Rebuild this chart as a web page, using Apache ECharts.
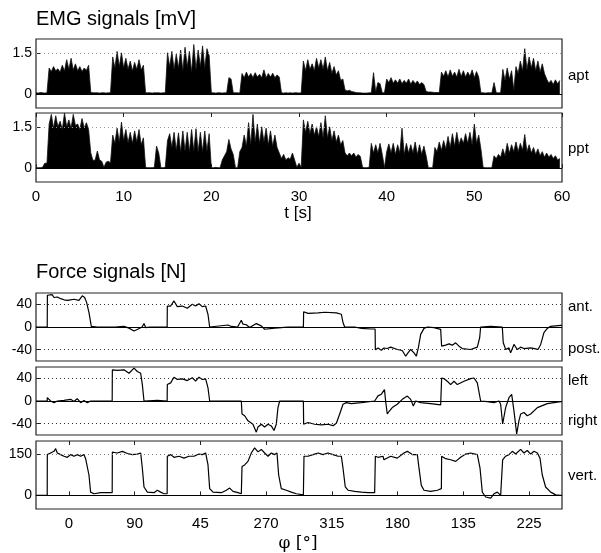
<!DOCTYPE html>
<html>
<head>
<meta charset="utf-8">
<script src="https://cdn.jsdelivr.net/npm/echarts@6/dist/echarts.min.js"></script>
<style>
  html, body { margin: 0; padding: 0; background: #fff; }
  #myChart { width: 601px; height: 553px; }
</style>
</head>
<body>
<div id="myChart"></div>
<script>
// EMG envelopes, one row per second: values at t, t+0.25, t+0.5, t+0.75 [mV]
var aptRows = [
  [0.05,0.04,0.06,0.05],[0.04,0.05,0.95,0.82],[1.0,0.85,0.92,0.8],[1.05,0.84,1.25,0.9],
  [1.3,0.88,1.1,0.85],[1.0,0.82,0.95,0.86],[1.05,0.06,0.05,0.05],[0.05,0.04,0.05,0.05],
  [0.04,0.05,0.05,1.35],[0.95,1.55,1.0,1.5],[0.95,1.3,0.9,1.2],[0.85,1.15,0.9,1.25],
  [0.88,1.05,0.05,0.05],[0.05,0.04,0.05,0.05],[0.05,0.04,0.05,0.05],[1.5,1.0,1.55,0.9],
  [1.45,0.95,1.6,0.85],[1.7,1.0,1.55,0.8],[1.8,0.9,1.6,1.0],[1.75,0.95,1.65,1.4],
  [0.05,0.05,0.04,0.05],[0.05,0.04,0.05,0.05],[0.6,0.55,0.05,0.05],[0.05,0.04,0.75,0.6],
  [0.8,0.62,0.75,0.6],[0.78,0.62,0.72,0.6],[0.88,0.6,0.75,0.62],[0.76,0.6,0.7,0.62],
  [0.05,0.04,0.05,0.04],[0.05,0.04,0.05,0.05],[0.04,0.05,1.2,0.85],[1.25,0.9,1.1,0.85],
  [1.3,0.95,1.25,0.9],[1.35,0.85,1.15,0.75],[1.0,0.7,0.85,0.5],[0.55,0.15,0.12,0.14],
  [0.1,0.08,0.06,0.05],[0.05,0.04,0.04,0.04],[0.05,0.05,0.78,0.08],[0.42,0.38,0.05,0.05],
  [0.55,0.42,0.6,0.4],[0.52,0.4,0.55,0.38],[0.5,0.4,0.55,0.36],[0.5,0.38,0.48,0.35],
  [0.42,0.35,0.1,0.08],[0.08,0.07,0.06,0.06],[0.06,0.8,0.65,0.85],[0.62,0.88,0.65,0.8],
  [0.62,0.9,0.64,0.85],[0.62,0.8,0.65,0.88],[0.6,0.82,0.62,0.05],[0.05,0.04,0.05,0.05],
  [0.05,0.42,0.05,0.05],[0.05,0.9,0.5,0.95],[0.55,0.85,0.15,1.0],[0.75,1.2,0.85,1.65],
  [0.9,1.35,0.95,1.3],[0.85,1.2,0.8,1.1],[0.75,0.55,0.4,0.5],[0.35,0.52,0.38,0.5]
];
var pptRows = [
  [0.02,0.02,0.02,0.03],[0.18,0.18,1.6,1.95],[1.45,1.9,1.5,1.7],[1.4,2.0,1.5,1.75],
  [1.45,1.95,1.55,1.6],[1.4,1.8,1.45,1.65],[1.4,0.55,0.28,0.3],[0.62,0.3,0.25,0.03],
  [0.22,0.25,0.2,1.2],[0.9,1.45,0.95,1.67],[1.0,1.4,0.92,1.3],[0.9,1.35,0.95,1.4],
  [0.85,1.1,0.03,0.02],[0.02,0.02,0.03,0.8],[0.55,0.02,0.02,0.03],[1.0,1.25,0.75,1.3],
  [0.65,1.28,0.6,1.35],[0.62,1.3,0.6,1.4],[0.62,1.43,0.6,1.3],[0.6,1.35,0.62,1.25],
  [0.02,0.02,0.03,0.02],[0.02,0.3,0.45,0.6],[1.04,0.7,0.5,0.02],[0.02,0.6,0.75,1.2],
  [0.8,1.65,0.85,1.95],[0.95,1.6,0.9,1.5],[0.95,1.45,0.85,1.35],[0.8,1.2,0.75,0.55],
  [0.35,0.5,0.3,0.38],[0.32,0.55,0.3,0.03],[0.18,0.03,1.75,1.3],[1.7,1.25,1.6,1.2],
  [1.5,1.15,1.65,1.1],[1.9,1.1,1.5,1.0],[1.35,0.95,1.2,0.85],[1.0,0.55,0.45,0.55],
  [0.45,0.55,0.4,0.5],[0.42,0.03,0.02,0.02],[0.03,0.9,0.55,0.85],[0.55,0.9,0.5,0.02],
  [0.6,0.88,0.55,0.9],[0.5,0.85,0.55,1.45],[0.5,0.9,0.55,0.85],[0.55,0.95,0.5,0.85],
  [0.5,0.8,0.45,0.02],[0.02,0.02,0.75,0.6],[0.95,0.65,1.0,0.7],[1.15,0.75,1.25,0.8],
  [1.3,0.85,1.1,0.9],[1.25,0.9,1.3,0.85],[1.6,0.9,1.2,0.7],[0.03,0.02,0.02,0.02],
  [0.02,0.45,0.35,0.5],[0.4,0.7,0.45,0.9],[0.55,0.85,0.6,0.95],[0.6,0.9,0.65,1.22],
  [0.6,0.85,0.55,0.75],[0.5,0.7,0.45,0.6],[0.4,0.55,0.4,0.5],[0.35,0.45,0.3,0.35]
];

// force signals [t (s), N]
var forceAP = [
  [0,0],[1.28,0],[1.3,56],[1.86,57],[2.05,52],[2.43,53],[2.81,50],[3.2,48],[3.57,47],[3.95,48],
  [4.33,49],[4.9,47],[5.28,55],[5.55,52],[5.78,43],[6.05,25],[6.31,1],[7,0],[9,0],[10.04,1],
  [10.6,-2],[11.18,-7],[11.6,-4],[12.1,0],[12.32,6],[12.51,-1],[13,0],[14.96,0],
  [14.98,37],[15.36,37],[15.74,46],[16.12,36],[16.69,37],[17.26,33],[17.83,40],[18.21,37],
  [18.59,41],[18.97,36],[19.35,37],[19.62,22],[19.81,0],[21.9,3.5],[22.28,1],[23,0],
  [23.42,12],[23.61,5],[23.99,4],[24.37,-1],[25.13,6],[25.7,2],[26.08,-4],[27.22,-2],
  [27.98,-1],[28.74,0],[30.5,0],[30.53,27],[31.03,24],[32.17,25],[32.93,26],[34.26,25],
  [34.83,22.5],[35.02,8],[35.21,0],[36.35,0],[37.11,-2.4],[38.25,-3.5],[38.68,-3.5],
  [38.71,-40],[39.01,-37],[39.39,-41],[39.69,-37],[40.07,-38],[40.45,-35.6],[41.21,-39.7],
  [41.78,-41.5],[42.17,-51.6],[42.43,-45.7],[42.74,-39.7],[43.12,-45.7],[43.38,-51.6],
  [43.61,-36.8],[43.88,-13],[44.26,-2.4],[44.64,0],[45.4,-1.2],[46.16,-4.2],
  [46.27,-33.8],[46.73,-32],[47.11,-29.7],[47.49,-32],[47.87,-27.9],[48.25,-33.8],
  [48.63,-38],[49.58,-39.7],[50.34,-35.6],[50.61,-19],[50.72,0],[51.87,1.2],[53.19,0],
  [53.3,-27.9],[53.58,-39.7],[53.95,-36.8],[54.14,-45.7],[54.52,-30.8],[54.9,-39.7],
  [55.28,-35.6],[55.66,-38],[56.43,-36.8],[57,-38.5],[57.26,-39.7],[57.57,-30.8],
  [57.94,-10],[58.32,-2.4],[58.71,1.2],[59.85,3],[60,3]
];
var forceLR = [
  [0,0],[1.28,0],[1.29,6],[1.67,0],[2.05,-3],[2.43,0],[3.19,1],[3.95,3],[4.33,-1],[4.71,4],
  [5.09,-3],[5.47,1],[5.85,-3],[6.23,0],[6.42,-3],[6.62,0],[8.69,0],
  [8.71,55],[9.28,54],[10.04,55],[10.61,49],[11.18,58],[11.56,52],[11.94,49],[12.13,29],
  [12.32,0],[13.84,1],[14.96,0],[14.98,29],[15.36,32],[15.74,42],[16.12,38],[16.69,39],
  [17.26,36],[17.83,41],[18.21,35],[18.59,42],[18.97,38],[19.35,39],[19.62,23],[19.81,0],
  [23.42,0],[23.5,-23],[23.8,-26],[24.18,-35],[24.37,-32],[24.75,-41],[25.13,-55],
  [25.32,-46],[25.7,-41],[26.08,-46],[26.46,-41],[26.84,-44],[27.15,-52],[27.41,-41],
  [27.6,-11.6],[27.8,0],[30.5,0],[30.53,-41],[31.03,-38],[31.79,-41],[32.55,-42],
  [33.31,-41],[33.88,-43.5],[34.26,-39.4],[34.64,-23],[35.02,-5.8],[35.4,-2.9],
  [35.97,-4.6],[37.11,-2.9],[38.63,0],[39.01,9],[39.39,12],[39.75,20],[39.88,0],
  [40.07,-23],[40.26,-18.6],[40.64,-11.6],[41.21,-5.8],[41.78,2.9],[42.36,8.7],[42.74,2.9],
  [43.04,-8.7],[43.31,0],[43.88,-2.9],[45.02,-4.6],[46.16,-7],
  [46.27,40.6],[46.54,39.4],[46.92,34.8],[47.3,29],[47.68,34.8],[48.06,29],[48.82,34.8],
  [49.58,39.4],[49.96,40.6],[50.34,32],[50.72,0],[51.48,-1.2],[52.24,-2.9],[52.81,0],
  [53,-5.8],[53.23,-40.6],[53.57,-11.6],[53.95,5.8],[54.26,11.6],[54.52,-17.4],
  [54.83,-58],[55.09,-34.8],[55.28,-23],[55.66,-20.3],[56.04,-26],[56.43,-23],
  [57.19,-11.6],[58.32,-4.6],[59.85,-1.2],[60,-1.2]
];
var forceV = [
  [0,0],[1.28,0],[1.29,150],[1.67,156],[2.05,162],[2.24,172],[2.43,156],[2.81,150],
  [3.19,144],[3.57,140],[3.95,150],[4.33,144],[4.71,150],[5.09,144],[5.47,150],[5.66,135],
  [5.85,131],[6.04,75],[6.23,12],[6.62,6],[7.38,10],[8.14,10],[8.69,10],
  [8.71,159],[9.28,156],[9.85,162],[10.42,154],[10.99,150],[11.56,152],[11.94,156],
  [12.13,100],[12.32,31],[12.7,12],[13.46,10],[13.84,19],[14.22,12],[14.6,6],[14.96,6],
  [14.98,144],[15.36,150],[15.74,140],[16.31,144],[16.88,137],[17.45,144],[18.02,144],
  [18.59,152],[18.97,150],[19.35,156],[19.62,112],[19.81,25],[20.19,12],[21.14,10],
  [21.71,19],[22.09,27],[22.47,15],[23.04,10],[23.42,6],
  [23.5,106],[23.8,112],[24.18,125],[24.56,156],[24.94,175],[25.32,160],[25.7,169],
  [26.08,156],[26.46,144],[26.84,156],[27.22,150],[27.49,156],[27.68,75],[27.98,25],
  [28.55,19],[29.12,12],[29.69,6],[30.5,2],
  [30.57,144],[31.03,144],[31.6,150],[32.17,156],[32.74,150],[33.31,156],[33.88,150],
  [34.45,144],[34.83,144],[35.02,100],[35.28,31],[35.59,19],[36.35,15],[37.11,12],
  [37.87,10],[38.63,10],
  [38.71,144],[39.01,140],[39.58,144],[39.69,131],[40.45,144],[41.21,137],[41.97,156],
  [42.36,162],[42.93,150],[43.5,150],[43.69,100],[43.95,37],[44.26,19],[45.02,15],
  [45.78,19],[46.24,25],
  [46.27,144],[46.73,135],[47.3,131],[47.87,125],[48.44,140],[49.01,152],[49.58,156],
  [50.34,150],[50.65,100],[50.91,12],[51.29,-6],[51.87,-10],[52.24,6],[52.62,12],[53,0],
  [53.23,131],[53.57,144],[53.95,150],[54.33,162],[54.71,152],[55.28,169],[55.66,156],
  [56.04,165],[56.43,152],[56.81,162],[57.19,156],[57.49,137],[57.75,75],[58.13,31],
  [58.71,12],[59.28,2],[59.85,0],[60,0]
];

// tick labels
var emgTicks = [0, 1.5];
var apTicks = [-40, 0, 40];
var vTicks = [0, 150];
var phiTicks = [3.75, 11.25, 18.75, 26.25, 33.75, 41.25, 48.75, 56.25];
var phiLabels = ['0', '90', '45', '270', '315', '180', '135', '225'];

var FONT = "'Liberation Sans', Arial, sans-serif";

function rowsToData(rows) {
    var out = [];
    for (var i = 0; i < rows.length; i++) {
        for (var j = 0; j < rows[i].length; j++) {
            out.push([i + j * 0.25, rows[i][j]]);
        }
    }
    return out;
}

var myChart = echarts.init(document.querySelector("#myChart"), null, { renderer: 'canvas' });

var grids = [
    { left: 36, width: 526, top: 39, height: 69 },
    { left: 36, width: 526, top: 113, height: 69 },
    { left: 36, width: 526, top: 293, height: 68 },
    { left: 36, width: 526, top: 367, height: 68 },
    { left: 36, width: 526, top: 441, height: 68 }
];
grids.forEach(function (g) {
    g.show = true;
    g.borderColor = '#222';
    g.borderWidth = 1.2;
    g.backgroundColor = 'transparent';
    g.containLabel = false;
});

function xHidden(gi) {
    return {
        type: 'value', gridIndex: gi, min: 0, max: 60,
        axisLine: { show: false }, axisTick: { show: false },
        axisLabel: { show: false }, splitLine: { show: false }
    };
}

function yAxis(gi, min, max, ticks) {
    return {
        type: 'value', gridIndex: gi, min: min, max: max,
        axisLine: { show: false },
        axisTick: { show: true, inside: true, length: 4, customValues: ticks, lineStyle: { color: '#222' } },
        axisLabel: { customValues: ticks, margin: 4, color: '#000', fontSize: 14, fontFamily: FONT },
        splitLine: { show: false }
    };
}

function refLines(dotted, dotColor) {
    var d = dotted.map(function (v) {
        return { yAxis: v, lineStyle: { type: [1, 3], color: dotColor, width: 1 } };
    });
    d.push({ yAxis: 0, lineStyle: { type: 'solid', color: '#000', width: 1.2 } });
    return { silent: true, symbol: 'none', label: { show: false }, animation: false, data: d };
}

function emgSeries(name, xi, yi, rows) {
    return {
        name: name, type: 'line', xAxisIndex: xi, yAxisIndex: yi,
        data: rowsToData(rows), showSymbol: false,
        lineStyle: { color: '#111', width: 0.8 },
        areaStyle: { color: '#000', opacity: 1, origin: 0 },
        markLine: refLines([1.5], '#999')
    };
}

option = {
    animation: false,
    backgroundColor: '#fff',
    grid: grids,
    xAxis: [
        xHidden(0),
        {
            type: 'value', gridIndex: 1, min: 0, max: 60, interval: 10,
            axisLine: { show: false },
            axisTick: { inside: true, length: 4, lineStyle: { color: '#222' } },
            axisLabel: { margin: 7, color: '#000', fontSize: 15, fontFamily: FONT },
            splitLine: { show: false }
        },
        {
            type: 'value', gridIndex: 1, position: 'top', min: 0, max: 60, interval: 10,
            axisLine: { show: false },
            axisTick: { inside: true, length: 4, lineStyle: { color: '#222' } },
            axisLabel: { show: false }, splitLine: { show: false }
        },
        xHidden(2),
        xHidden(3),
        {
            type: 'value', gridIndex: 4, min: 0, max: 60,
            axisLine: { show: false },
            axisTick: { inside: true, length: 4, customValues: phiTicks, lineStyle: { color: '#222' } },
            axisLabel: {
                customValues: phiTicks, margin: 7, color: '#000', fontSize: 15, fontFamily: FONT,
                formatter: function (v) { return phiLabels[phiTicks.indexOf(v)]; }
            },
            splitLine: { show: false }
        },
        {
            type: 'value', gridIndex: 4, position: 'top', min: 0, max: 60,
            axisLine: { show: false },
            axisTick: { inside: true, length: 4, customValues: phiTicks, lineStyle: { color: '#222' } },
            axisLabel: { show: false }, splitLine: { show: false }
        }
    ],
    yAxis: [
        yAxis(0, -0.5, 2, emgTicks),
        yAxis(1, -0.5, 2, emgTicks),
        yAxis(2, -60, 60, apTicks),
        yAxis(3, -60, 60, apTicks),
        yAxis(4, -50, 200, vTicks)
    ],
    series: [
        emgSeries('apt', 0, 0, aptRows),
        emgSeries('ppt', 1, 1, pptRows),
        {
            name: 'ant/post', type: 'line', xAxisIndex: 3, yAxisIndex: 2,
            data: forceAP, showSymbol: false,
            lineStyle: { color: '#000', width: 1.2 },
            markLine: refLines([40, -40], '#333')
        },
        {
            name: 'left/right', type: 'line', xAxisIndex: 4, yAxisIndex: 3,
            data: forceLR, showSymbol: false,
            lineStyle: { color: '#000', width: 1.2 },
            markLine: refLines([40, -40], '#333')
        },
        {
            name: 'vert', type: 'line', xAxisIndex: 5, yAxisIndex: 4,
            data: forceV, showSymbol: false,
            lineStyle: { color: '#000', width: 1.2 },
            markLine: refLines([150], '#777')
        }
    ],
    graphic: [
        { type: 'text', left: 36, top: 9, style: { text: 'EMG signals [mV]', fontSize: 20, fontFamily: FONT, fill: '#000' } },
        { type: 'text', left: 36, top: 262, style: { text: 'Force signals [N]', fontSize: 20, fontFamily: FONT, fill: '#000' } },
        { type: 'text', x: 298, y: 213, style: { text: 't [s]', fontSize: 17, fontFamily: FONT, fill: '#000', align: 'center', verticalAlign: 'middle' } },
        { type: 'text', x: 298, y: 544, style: { text: 'φ [°]', fontSize: 17, fontFamily: "'DejaVu Serif', serif", fill: '#000', align: 'center', verticalAlign: 'middle' } },
        { type: 'text', x: 568, y: 76, style: { text: 'apt', fontSize: 15, fontFamily: FONT, fill: '#000', verticalAlign: 'middle' } },
        { type: 'text', x: 568, y: 149, style: { text: 'ppt', fontSize: 15, fontFamily: FONT, fill: '#000', verticalAlign: 'middle' } },
        { type: 'text', x: 568, y: 307, style: { text: 'ant.', fontSize: 15, fontFamily: FONT, fill: '#000', verticalAlign: 'middle' } },
        { type: 'text', x: 568, y: 349, style: { text: 'post.', fontSize: 15, fontFamily: FONT, fill: '#000', verticalAlign: 'middle' } },
        { type: 'text', x: 568, y: 381, style: { text: 'left', fontSize: 15, fontFamily: FONT, fill: '#000', verticalAlign: 'middle' } },
        { type: 'text', x: 568, y: 421, style: { text: 'right', fontSize: 15, fontFamily: FONT, fill: '#000', verticalAlign: 'middle' } },
        { type: 'text', x: 568, y: 476, style: { text: 'vert.', fontSize: 15, fontFamily: FONT, fill: '#000', verticalAlign: 'middle' } }
    ]
};

myChart.setOption(option);
</script>
</body>
</html>
